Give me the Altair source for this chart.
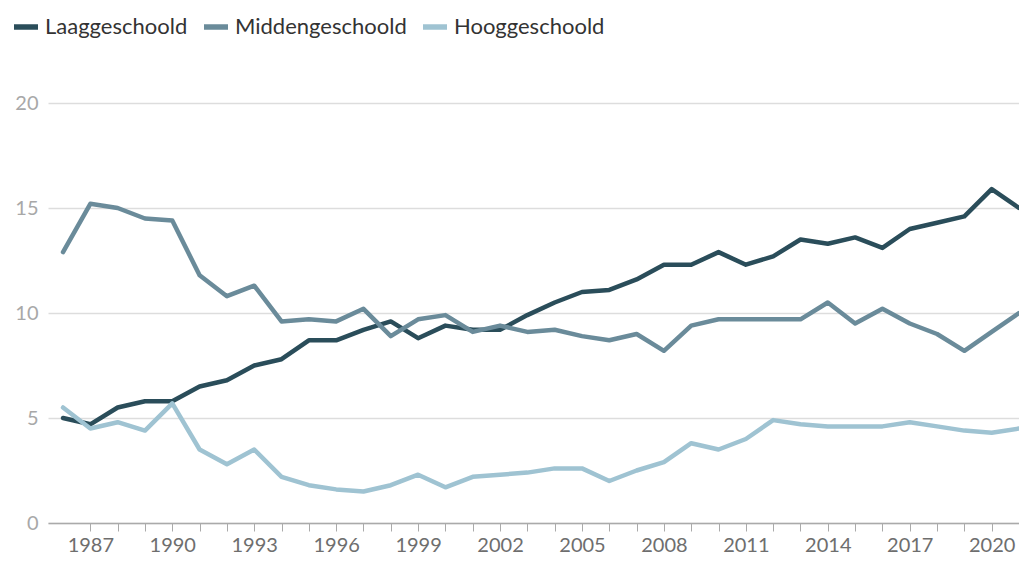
import altair as alt
import pandas as pd

years = list(range(1986, 2022))
laag = [5.0, 4.7, 5.5, 5.8, 5.8, 6.5, 6.8, 7.5, 7.8, 8.7, 8.7, 9.2, 9.6, 8.8, 9.4, 9.2, 9.2, 9.9,
        10.5, 11.0, 11.1, 11.6, 12.3, 12.3, 12.9, 12.3, 12.7, 13.5, 13.3, 13.6, 13.1, 14.0, 14.3, 14.6, 15.9, 15.0]
midden = [12.9, 15.2, 15.0, 14.5, 14.4, 11.8, 10.8, 11.3, 9.6, 9.7, 9.6, 10.2, 8.9, 9.7, 9.9, 9.1, 9.4, 9.1,
          9.2, 8.9, 8.7, 9.0, 8.2, 9.4, 9.7, 9.7, 9.7, 9.7, 10.5, 9.5, 10.2, 9.5, 9.0, 8.2, 9.1, 10.0]
hoog = [5.5, 4.5, 4.8, 4.4, 5.7, 3.5, 2.8, 3.5, 2.2, 1.8, 1.6, 1.5, 1.8, 2.3, 1.7, 2.2, 2.3, 2.4,
        2.6, 2.6, 2.0, 2.5, 2.9, 3.8, 3.5, 4.0, 4.9, 4.7, 4.6, 4.6, 4.6, 4.8, 4.6, 4.4, 4.3, 4.5]

series_names = ["Laaggeschoold", "Middengeschoold", "Hooggeschoold"]
series_colors = ["#2a4d5a", "#6a8b9a", "#9fc3d2"]
tick_years = list(range(1987, 2022))

rows = []
for name, vals in zip(series_names, [laag, midden, hoog]):
    for y, v in zip(years, vals):
        rows.append({"jaar": y, "waarde": v, "groep": name})
df = pd.DataFrame(rows)

FONT = "Lato"

chart = alt.Chart(df).mark_line(strokeWidth=4.5, strokeJoin="round", strokeCap="round").encode(
    x=alt.X("jaar:Q",
            scale=alt.Scale(domain=[1985.45, 2021.0], nice=False, zero=False),
            axis=alt.Axis(values=tick_years, format="d", title=None, grid=False,
                          labelExpr="(datum.value - 1987) % 3 == 0 ? datum.label : ''",
                          labelOverlap=False, labelFont=FONT, labelFontSize=20,
                          labelColor="#6e6e6e", labelPadding=20, labelBaseline="alphabetic",
                          domainColor="#aaaaaa", domainWidth=1.5, tickColor="#aaaaaa",
                          tickSize=8, tickWidth=1)),
    y=alt.Y("waarde:Q",
            scale=alt.Scale(domain=[0, 20], nice=False),
            axis=alt.Axis(values=[0, 5, 10, 15, 20], title=None, domain=False, ticks=False,
                          gridColor="#dddddd", gridWidth=1.5, labelFont=FONT, labelFontSize=20,
                          labelColor="#a8a8a8", labelPadding=10)),
    color=alt.Color("groep:N",
                    scale=alt.Scale(domain=series_names, range=series_colors),
                    legend=alt.Legend(title=None, orient="none", legendX=-37, legendY=-91,
                                      direction="horizontal", symbolType="stroke",
                                      symbolStrokeWidth=5.5, symbolSize=576,
                                      labelFont=FONT, labelFontSize=22, labelColor="#333333",
                                      labelLimit=400, columnPadding=5, labelOffset=4)),
).properties(
    width=971,
    height=420,
    padding={"left": 40, "top": 95, "right": 0, "bottom": 31},
    autosize=alt.AutoSizeParams(type="none"),
).configure_view(stroke=None)

chart.save("out.html", embed_options={"renderer": "svg", "actions": False})
